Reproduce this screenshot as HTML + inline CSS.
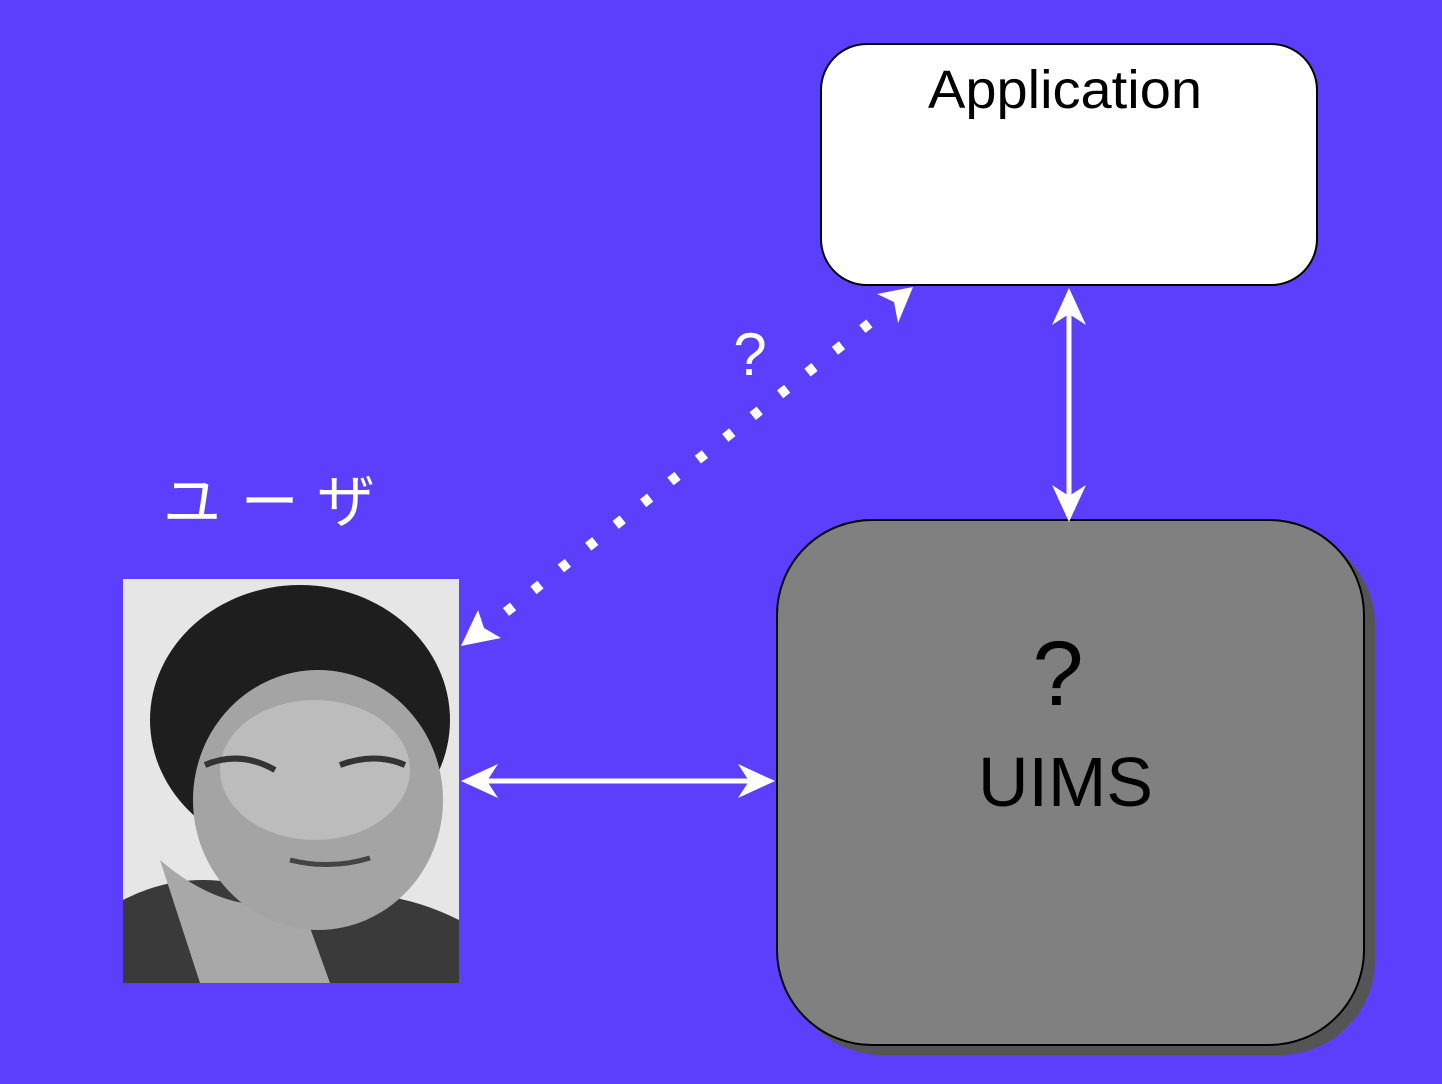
<!DOCTYPE html>
<html><head><meta charset="utf-8"><style>
html,body{margin:0;padding:0;background:#5b3ffd;}
svg{display:block;}
</style></head><body>
<svg width="1442" height="1084" viewBox="0 0 1442 1084" xmlns="http://www.w3.org/2000/svg">
<rect width="1442" height="1084" fill="#5b3ffd"/>
<!-- Application box -->
<rect x="821" y="44" width="496" height="241" rx="46" fill="#fff" stroke="#000" stroke-width="2"/>
<text x="928" y="108" font-family="Liberation Sans, sans-serif" font-size="54" textLength="274" lengthAdjust="spacingAndGlyphs" fill="#000">Application</text>
<!-- UIMS box -->
<rect x="787" y="530" width="588" height="525" rx="95" fill="#555"/>
<rect x="777" y="520" width="587" height="525" rx="95" fill="#808080" stroke="#000" stroke-width="2"/>
<text x="1058" y="705" font-family="Liberation Sans, sans-serif" font-size="92" text-anchor="middle" fill="#000">?</text>
<text x="978" y="806" font-family="Liberation Sans, sans-serif" font-size="70" textLength="175" lengthAdjust="spacingAndGlyphs" fill="#000">UIMS</text>
<!-- photo -->
<rect x="123" y="579" width="336" height="404" fill="#e6e6e6"/>
<ellipse cx="300" cy="720" rx="150" ry="135" fill="#1e1e1e"/>
<path d="M123 983 L123 900 Q200 860 290 900 Q380 880 459 920 L459 983 Z" fill="#3a3a3a"/>
<path d="M160 860 Q230 920 300 900 L330 983 L200 983 Z" fill="#a8a8a8"/>
<ellipse cx="318" cy="800" rx="125" ry="130" fill="#a4a4a4"/>
<ellipse cx="315" cy="770" rx="95" ry="70" fill="#bcbcbc"/>
<path d="M205 765 Q240 750 275 770" stroke="#333" stroke-width="6" fill="none"/>
<path d="M340 765 Q375 752 405 765" stroke="#333" stroke-width="6" fill="none"/>
<path d="M290 860 Q330 870 370 858" stroke="#444" stroke-width="5" fill="none"/>
<!-- labels -->
<text x="163" y="522" font-family="Liberation Sans, 'Noto Sans CJK JP', sans-serif" font-size="58" textLength="212" lengthAdjust="spacing" fill="#fff">ユーザ</text>
<text x="750" y="375" font-family="Liberation Sans, sans-serif" font-size="60" text-anchor="middle" fill="#fff">?</text>
<!-- vertical arrow -->
<line x1="1069" y1="310" x2="1069" y2="498" stroke="#fff" stroke-width="5"/>
<polygon points="1069,288 1052,325 1069,314 1086,325" fill="#fff"/>
<polygon points="1069,522 1052,485 1069,496 1086,485" fill="#fff"/>
<!-- horizontal arrow -->
<line x1="485" y1="781" x2="752" y2="781" stroke="#fff" stroke-width="5"/>
<polygon points="461,781 498,764 487,781 498,798" fill="#fff"/>
<polygon points="775,781 738,764 749,781 738,798" fill="#fff"/>
<!-- dotted arrow -->
<line x1="506" y1="612" x2="885" y2="311" stroke="#fff" stroke-width="10" stroke-dasharray="9 26"/>
<polygon points="461,646 478,610 484,628 501,638" fill="#fff"/>
<polygon points="913,287 877,294 894,302 898,323" fill="#fff"/>
</svg>
</body></html>
